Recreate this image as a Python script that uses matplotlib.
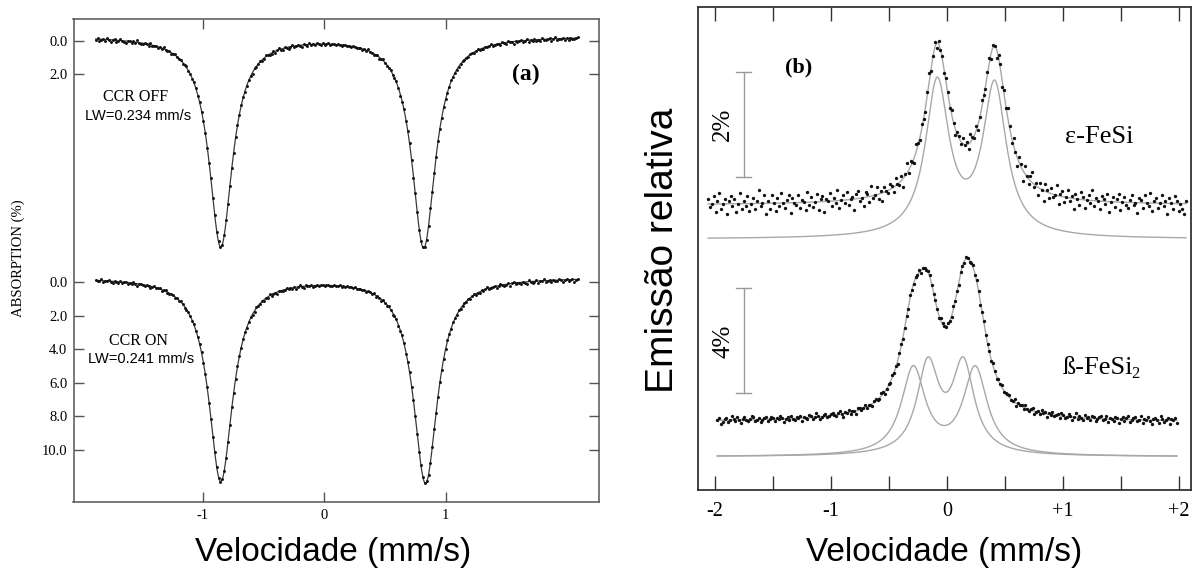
import numpy as np
import matplotlib.pyplot as plt

W, H = 1193, 570
SERIF = "Liberation Serif"
SANS = "Liberation Sans"

# ---------------- (a) absorption spectra, CCR off / on ----------------
vel_range_a = (-1.88, 2.09)
off_centres = [-0.85, 0.82]
off_depths = [12.54, 12.6]
off_lw = 0.234
on_centres = [-0.85, 0.835]
on_depths = [12.14, 12.24]
on_lw = 0.241
baseline_a = -0.3
on_shift = 14.4
abs_tick_values = [0.0, 2.0, 0.0, 2.0, 4.0, 6.0, 8.0, 10.0]
abs_tick_shift = [0.0, 0.0, on_shift, on_shift, on_shift, on_shift, on_shift, on_shift]
vel_ticks_a = [-1, 0, 1]

# scatter of the measured channels about the fit, in units of 0.04 %
resid_unit_a = 0.04
off_resid = [
    2, -1, 3, 1, 0, 2, -2, 1, 3, 0, -1, 2, 1, -2, 0, 1, 3, -1, 0, 2, -1, 1, -3, 0, 2, 1, -1, 0, 2, -2, 1, 0,
    -1, 2, 0, 1, -2, 1, 0, -1, 2, 1, -1, 0, 1, -1, 2, 0, -2, 1, 0, 1, -1, 0, 2, -1, 1, 0, -1, 1, 0, -2, 1, 0,
    1, -1, 0, 1, 0, -1, 1, 0, 0, 1, -1, 0, 1, 0, -1, 1, 2, -1, 0, 3, -2, 1, 0, -1, 2, 1, -2, 0, 1, 2, -1, 3,
    0, -2, 1, 2, -1, 0, 3, 1, -2, 2, 0, -1, 1, 3, -1, 0, 2, -2, 1, 0, 2, -1, 0, 1, -1, 1, 0, -1, 1, 0, 0, 1,
    -1, 0, 1, 0, -1, 1, 0, 1, -1, 0, 1, 0, -1, 2, 0, 1, -2, 1, 0, 2, 1, -1, 3, 0, -2, 1, 2, 0, -1, 2, 1, -2,
    0, 3, 1, -1, 2, 0, -2, 1, 3, -1, 0, 2, 1, -1, 0, 1, 0, -1, 1, 0, 1, -1, 0, 1, -1, 0, 1, 1, -1, 0, 0, 1,
    1, 0, -1, 1, 0, 1, -1, 0, 1, 0, -2, 1, 0, 2, -1, 1, 0, -2, 2, 1, -1, 0, 3, -1, 1, 2, -2, 0, 1, 3, -1, 2,
    0, -1, 2, 1, -2, 3, 0, 1, -1, 2, 0, 3, -2, 1, 2, 0, -1, 3, 1, -2, 2, 0, 1, -1, 3, 0, 2, -1, 1, 2, 0, -1,
]
on_resid = [
    -1, 1, 0, -2, 2, 1, 0, -1, 1, 3, -1, 0, 2, -2, 1, 0, -1, 2, 0, 1, -2, 1, 3, 0, -1, 1, 2, -1, 0, 2, 1, -2,
    1, 0, -1, 2, 0, -2, 1, 1, 0, -1, 2, 0, 1, -1, 0, 2, 1, -1, 0, 1, -1, 1, 0, 0, -1, 1, 0, -1, 1, 0, 1, -1,
    0, 1, 0, -1, 1, 0, 0, 1, -1, 0, 1, -1, 0, 1, 0, -1, 2, 0, -1, 1, 2, -2, 0, 1, -1, 2, 0, 1, -2, 2, 1, 0,
    3, -1, 0, 2, 1, -2, 1, 0, 2, -1, 3, 0, -2, 1, 2, -1, 0, 1, -1, 2, 0, -1, 1, 0, 0, 1, -1, 0, 1, 0, -1, 1,
    0, -1, 1, 0, 1, -1, 0, 0, 1, -1, 1, 0, -1, 1, 0, 2, -1, 0, 1, -2, 2, 0, 1, 3, -1, 0, 2, -2, 1, 3, 0, -1,
    2, 1, -2, 0, 3, 1, -1, 2, 0, -1, 1, 2, -1, 0, 1, -1, 0, 1, 0, -1, 1, 0, -1, 1, 1, 0, -1, 0, 1, -1, 0, 1,
    -1, 1, 0, 0, 1, -1, 2, 0, -1, 1, 0, 2, -1, 1, 0, -2, 2, 1, 0, -1, 3, 1, -2, 0, 2, 1, -1, 3, 0, -2, 2, 1,
    0, 2, -1, 1, 3, -2, 0, 2, 1, -1, 3, 0, 1, -2, 2, 1, 0, 3, -1, 1, 2, -2, 0, 3, 1, -1, 2, 0, -1, 3, 1, 0,
]

# ---------------- (b) emission spectra ----------------
vel_range_eps = (-2.06, 2.06)
eps_centres = [-0.085, 0.41]
eps_amps = [2.92, 2.86]
eps_fwhm = 0.246
eps_component_shift = -0.65
vel_range_beta = (-1.98, 1.98)
beta1_centres = [-0.291, 0.243]
beta1_amps = [3.30, 3.30]
beta1_fwhm = 0.25
beta2_centres = [-0.165, 0.14]
beta2_amps = [3.38, 3.38]
beta2_fwhm = 0.23
beta_component_shift = -1.33
vel_ticks_b = [-2.0, -1.5, -1.0, -0.5, 0.0, 0.5, 1.0, 1.5, 2.0]
vel_labels_b = ["-2", "", "-1", "", "0", "", "+1", "", "+2"]

resid_unit_b = 0.05
eps_resid = [
    2, -1, 0, 3, -3, 1, 4, -2, 0, 2, -4, 1, 3, -1, 2, -3, 0, 4, -2, 1, -1, 3, -3, 0, 2, -2, 1, 5, -1, 0, 3, -4,
    1, -2, 3, 0, -3, 2, -1, 4, 0, -2, 1, 3, -4, 2, 0, -1, 3, -2, 1, 0, -3, 4, -1, 2, -2, 0, 3, -3, 1, 2, -4, 1,
    0, 3, -2, 1, -1, 4, -3, 0, 2, -1, 3, -2, 0, 1, -4, 2, 3, -1, 0, -3, 2, 1, -2, 4, -1, 0, 3, -2, 1, -3, 2, 0,
    -1, 2, 1, -2, 3, 0, -1, 2, -3, 1, 4, -1, 2, 0, -2, 3, 1, -1, 2, 0, -2, 1, 3, -1, 0, 2, -2, 1, 0, 1, -1, 2,
    1, -1, 2, 0, -2, 1, 1, -1, 2, 0, 1, -2, 3, 1, -1, 2, -2, 0, 3, 1, -1, 1, 2, -2, 1, 0, -3, 1, 2, -2, 2, 0,
    4, 1, -2, 3, 0, -3, 2, 1, -4, 3, 0, -2, 2, 4, -1, 1, -3, 2, 0, -4, 3, 1, -2, 2, -1, 0, 4, -3, 1, 2, -2, 0,
    3, -1, 1, -4, 2, 0, -2, 3, 1, -3, 0, 2, -1, 4, -2, 1, 0, -3, 2, 1, -1, 3, -4, 0, 2, -2, 1, 3, -3, 0, 2, -1,
    -2, 1, 3, -1, 0, -4, 2, 1, -2, 3, 0, -1, 4, -3, 1, 2, -2, 0, 3, -1, 1, -4, 2, 0, -2, 3, 1, -3, 0, -2, -4, 1,
]
beta_resid = [
    0, 2, -3, -1, 1, 2, -1, 0, 3, 1, -1, 2, 0, -2, 1, 2, 0, -1, 1, 3, 2, -1, 0, 1, -2, 0, 1, 2, -1, 0, 2, 1,
    -1, 1, 0, 2, 1, -2, 0, 1, -1, 2, 0, -1, 1, 0, 2, -2, 1, 0, -1, 2, 1, -1, 0, 3, 1, -2, 0, 1, 2, -1, 0, 1,
    2, 0, -1, 1, 3, 0, -2, 1, 0, 2, -1, 1, 0, -2, 2, 1, -1, 0, 2, -1, 1, 0, -2, 1, 2, 0, -1, 2, 1, -2, 0, 1,
    -1, 2, 0, 1, -2, 1, 2, -1, 0, 1, -1, 2, 0, -1, 1, 0, 2, -2, 1, 0, -1, 1, 2, 0, -1, 1, 0, -2, 2, 1, 0, -1,
    1, 0, -1, 2, 0, 1, -2, 1, 0, -1, 2, 1, -1, 0, 2, -1, 1, 0, -2, 1, 2, -1, 0, 1, -1, 2, 0, -2, 1, 0, 2, -1,
    0, 1, 2, -1, 0, 2, -2, 1, 0, 1, -1, 2, 0, -1, 1, 2, -2, 0, 1, -1, 2, 0, 1, -2, 1, 0, 2, -1, 0, 1, -2, 2,
    1, -1, 0, 2, 1, -2, 0, 3, -1, 1, 0, -2, 2, 0, 1, -1, 2, 1, -2, 0, 1, 2, -1, 0, 2, -2, 1, 0, -1, 2, 1, -3,
    0, 2, -1, 1, 3, -2, 0, 1, 2, -1, 0, 3, -2, 1, 0, 2, -1, -3, 1, 2, 0, -2, 3, 1, -1, 0, 2, -3, 1, 0, 2, -2,
]


def lorentz(v, centres, amps, fwhm):
    hw = fwhm / 2.0
    return sum(a / (1.0 + ((v - c) / hw) ** 2) for c, a in zip(centres, amps))


def rect(x0, y0, x1, y1):
    # pixel box (top-left origin) -> figure fraction
    return [x0 / W, 1 - y1 / H, (x1 - x0) / W, (y1 - y0) / H]


fig = plt.figure(figsize=(W / 100, H / 100), dpi=100)

# ---------------- panel (a) ----------------
ax_a = fig.add_axes(rect(73.5, 19, 599, 501.7))
ax_a.set_xlim(-2.062, 2.263)
ax_a.set_ylim(27.5, -1.31)

n_a = len(off_resid)
v_ch = np.linspace(*vel_range_a, n_a)
v_fine = np.linspace(*vel_range_a, 1600)

for centres, depths, lw, shift, resid in [
    (off_centres, off_depths, off_lw, 0.0, off_resid),
    (on_centres, on_depths, on_lw, on_shift, on_resid),
]:
    fit = shift + baseline_a + lorentz(v_fine, centres, depths, lw)
    pts = shift + baseline_a + lorentz(v_ch, centres, depths, lw) + np.array(resid) * resid_unit_a
    ax_a.plot(v_fine, fit, color="#3a3a3a", lw=0.9, zorder=2)
    ax_a.plot(v_ch, pts, "o", ms=2.1, color="#111111", mew=0, zorder=3)

ax_a.set_xticks(vel_ticks_a)
ax_a.set_xticklabels([str(t) for t in vel_ticks_a], family=SERIF, fontsize=10.5)
ax_a.set_yticks([s + v for s, v in zip(abs_tick_shift, abs_tick_values)])
ax_a.set_yticklabels([f"{v:.1f}" for v in abs_tick_values], family=SERIF, fontsize=10.5)
ax_a.tick_params(direction="in", length=7, width=1, color="#555555", top=True, right=True,
                 labeltop=False, labelright=False)
ax_a.tick_params(axis="x", pad=5)
ax_a.tick_params(axis="y", pad=4.5)
for sp in ax_a.spines.values():
    sp.set_color("#555555")
    sp.set_linewidth(1.1)

ax_a.text(1.66, 1.97, "(a)", family=SERIF, fontweight="bold", fontsize=17, ha="center", va="center")
ax_a.text(-1.55, 3.34, "CCR OFF", family=SERIF, fontsize=11.5, ha="center", va="center")
ax_a.text(-1.53, 4.48, "LW=0.234 mm/s", family=SANS, fontsize=10.5, ha="center", va="center")
ax_a.text(-1.53, on_shift + 3.49, "CCR ON", family=SERIF, fontsize=11.5, ha="center", va="center")
ax_a.text(-1.51, on_shift + 4.58, "LW=0.241 mm/s", family=SANS, fontsize=10.5, ha="center", va="center")

fig.text(18 / W, 1 - 258 / H, "ABSORPTION (%)", family=SERIF, fontsize=10.5, rotation=90,
         ha="center", va="center")
fig.text(333 / W, 1 - 552 / H, "Velocidade (mm/s)", family=SANS, fontsize=24, ha="center", va="center")

# ---------------- panel (b) ----------------
box_b = rect(698, 7, 1191, 490)
ax_b = fig.add_axes(box_b)
ax_b.set_xlim(-2.147, 2.103)
ax_b.set_ylim(0, 1)
ax_b.set_yticks([])
ax_b.set_xticks(vel_ticks_b)
ax_b.set_xticklabels(vel_labels_b, family=SERIF, fontsize=14.5)
ax_b.tick_params(axis="x", direction="in", length=10, width=1, color="#333333", top=True, pad=9)
for sp in ax_b.spines.values():
    sp.set_color("#333333")
    sp.set_linewidth(1.3)

ax_eps = fig.add_axes(box_b, sharex=ax_b)
ax_eps.axis("off")
ax_eps.set_ylim(-5.429, 3.771)
ax_beta = fig.add_axes(box_b, sharex=ax_b)
ax_beta.axis("off")
ax_beta.set_ylim(-2.60, 15.80)

line_b = dict(color="#a8a8a8", lw=1.0, zorder=2)
dot_b = dict(marker="o", ls="none", ms=2.4, color="#111111", mew=0, zorder=3)

# epsilon-FeSi: single doublet
v_ch = np.linspace(*vel_range_eps, len(eps_resid))
v_fine = np.linspace(*vel_range_eps, 1200)
eps_fit = lorentz(v_fine, eps_centres, eps_amps, eps_fwhm)
ax_eps.plot(v_fine, eps_fit, **line_b)
ax_eps.plot(v_fine, eps_fit + eps_component_shift, **line_b)
ax_eps.plot(v_ch, lorentz(v_ch, eps_centres, eps_amps, eps_fwhm) + np.array(eps_resid) * resid_unit_b, **dot_b)

# beta-FeSi2: two doublets
v_ch = np.linspace(*vel_range_beta, len(beta_resid))
v_fine = np.linspace(*vel_range_beta, 1200)
d1 = lorentz(v_fine, beta1_centres, beta1_amps, beta1_fwhm)
d2 = lorentz(v_fine, beta2_centres, beta2_amps, beta2_fwhm)
ax_beta.plot(v_fine, d1 + d2, **line_b)
ax_beta.plot(v_fine, d1 + beta_component_shift, **line_b)
ax_beta.plot(v_fine, d2 + beta_component_shift, **line_b)
beta_pts = (lorentz(v_ch, beta1_centres, beta1_amps, beta1_fwhm)
            + lorentz(v_ch, beta2_centres, beta2_amps, beta2_fwhm)
            + np.array(beta_resid) * resid_unit_b)
ax_beta.plot(v_ch, beta_pts, **dot_b)

# scale bars
bar_x, cap = -1.753, 0.0625
for ax, y0, size, label in [(ax_eps, 0.54, 2, "2%"), (ax_beta, 1.08, 4, "4%")]:
    ax.plot([bar_x, bar_x], [y0, y0 + size], color="#999999", lw=1.0)
    for y in (y0, y0 + size):
        ax.plot([bar_x - cap, bar_x + cap], [y, y], color="#999999", lw=1.0)
    ax.text(-1.93, y0 + size / 2, label, family=SERIF, fontsize=18, rotation=90,
            ha="center", va="center")

ax_eps.text(-1.28, 2.61, "(b)", family=SERIF, fontweight="bold", fontsize=16, ha="center", va="center")
ax_eps.text(1.31, 1.295, "ε-FeSi", family=SERIF, fontsize=19, ha="center", va="center")
beta_label = ax_beta.text(1.30, 2.05, "ß-FeSi", family=SERIF, fontsize=19, ha="center", va="center")
ax_beta.annotate("2", xy=(1.0, 0.0), xycoords=beta_label, xytext=(-1.5, -2), textcoords="offset points",
                 family=SERIF, fontsize=12, ha="left", va="bottom")

fig.text(663 / W, 1 - 250 / H, "Emissão relativa", family=SANS, fontsize=28, rotation=90,
         ha="center", va="center")
fig.text(944 / W, 1 - 553 / H, "Velocidade (mm/s)", family=SANS, fontsize=24, ha="center", va="center")

fig.savefig("out.png", dpi=100)
